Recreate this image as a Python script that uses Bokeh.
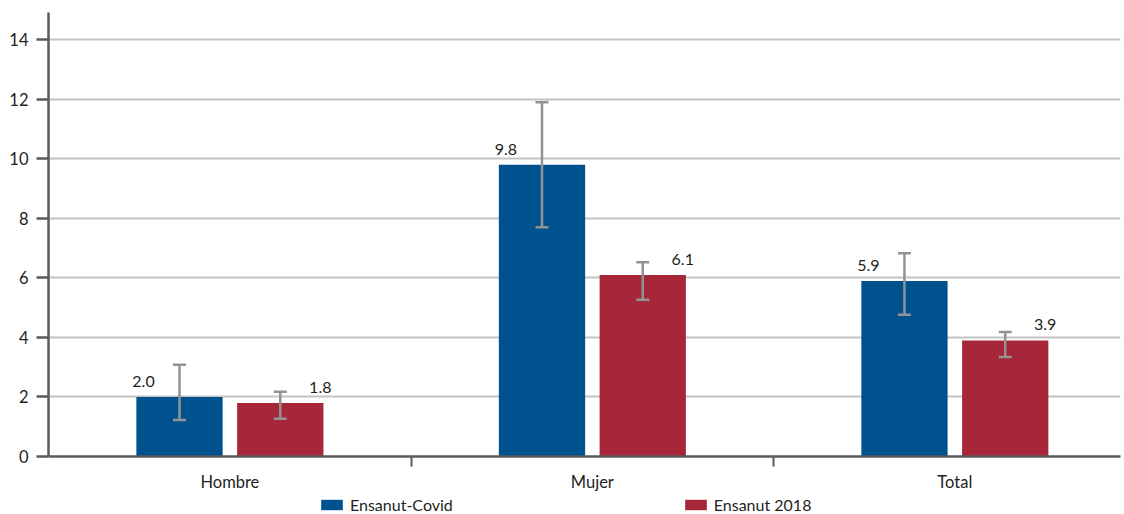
from bokeh.plotting import figure
from bokeh.layouts import column
from bokeh.models import (ColumnDataSource, Whisker, TeeHead, Legend, LegendItem,
                          FixedTicker, Range1d)
from bokeh.core.properties import value
from bokeh.embed import file_html
from bokeh.resources import INLINE

categories = ["Hombre", "Mujer", "Total"]
series = ["Ensanut-Covid", "Ensanut 2018"]
covid = [2.0, 9.8, 5.9]
covid_low = [1.23, 7.7, 4.76]
covid_high = [3.08, 11.9, 6.83]
e2018 = [1.8, 6.1, 3.9]
e2018_low = [1.27, 5.27, 3.34]
e2018_high = [2.18, 6.53, 4.18]
y_ticks = [0, 2, 4, 6, 8, 10, 12, 14]

BLUE = "#00528F"
RED = "#A6263A"
ERR = "#939393"
AXIS = "#5a5a5a"
TXT = "#231f20"
FONT = "Lato"
OFF = 0.139
BW = 0.238

idx = [i + 1 for i in range(len(categories))]
src_c = ColumnDataSource(dict(x=[i - OFF for i in idx], v=covid, lo=covid_low, hi=covid_high,
                              lab=[f"{v:.1f}" for v in covid]))
src_e = ColumnDataSource(dict(x=[i + OFF for i in idx], v=e2018, lo=e2018_low, hi=e2018_high,
                              lab=[f"{v:.1f}" for v in e2018]))

p = figure(width=1124, height=496, output_backend="svg", toolbar_location=None,
           x_range=Range1d(0.4996, 3.457), y_range=Range1d(0, 14.92),
           min_border_left=48, min_border_right=4, min_border_top=12, min_border_bottom=40)
p.outline_line_color = None
p.background_fill_color = "white"
p.border_fill_color = "white"

r_c = p.vbar(x="x", top="v", width=BW, source=src_c, fill_color=BLUE, line_color=None)
r_e = p.vbar(x="x", top="v", width=BW, source=src_e, fill_color=RED, line_color=None)

for src in (src_c, src_e):
    w = Whisker(source=src, base="x", upper="hi", lower="lo", line_color=ERR, line_width=2.5,
                level="overlay",
                upper_head=TeeHead(size=13, line_color=ERR, line_width=2.5),
                lower_head=TeeHead(size=13, line_color=ERR, line_width=2.5))
    p.add_layout(w)

p.text(x="x", y="v", text="lab", source=src_c, x_offset=-36, y_offset=-10,
       text_align="center", text_baseline="bottom", text_font=value(FONT),
       text_font_size="16px", text_color=TXT)
p.text(x="x", y="v", text="lab", source=src_e, x_offset=40, y_offset=-10,
       text_align="center", text_baseline="bottom", text_font=value(FONT),
       text_font_size="16px", text_color=TXT)

# axes
p.xaxis.ticker = FixedTicker(ticks=idx, minor_ticks=[1.5, 2.5])
p.xaxis.major_label_overrides = {i: c for i, c in zip(idx, categories)}
p.xaxis.major_tick_out = 0
p.xaxis.major_tick_in = 0
p.xaxis.minor_tick_out = 10
p.xaxis.minor_tick_in = 0
p.xaxis.minor_tick_line_color = AXIS
p.xaxis.minor_tick_line_width = 2
p.xaxis.axis_line_color = AXIS
p.xaxis.axis_line_width = 2.5
p.xaxis.major_label_standoff = 5
p.xaxis.major_label_text_font = FONT
p.xaxis.major_label_text_font_size = "16.5px"
p.xaxis.major_label_text_color = TXT
p.xgrid.visible = False

p.yaxis.ticker = FixedTicker(ticks=y_ticks)
p.yaxis.major_tick_out = 12
p.yaxis.major_tick_in = 0
p.yaxis.minor_tick_out = 0
p.yaxis.minor_tick_in = 0
p.yaxis.major_tick_line_color = AXIS
p.yaxis.major_tick_line_width = 2.5
p.yaxis.axis_line_color = AXIS
p.yaxis.axis_line_width = 2.5
p.yaxis.major_label_standoff = 8
p.yaxis.major_label_text_font = FONT
p.yaxis.major_label_text_font_size = "16.5px"
p.yaxis.major_label_text_color = TXT
p.ygrid.ticker = FixedTicker(ticks=y_ticks[1:])
p.ygrid.grid_line_color = "#c3c3c3"
p.ygrid.grid_line_width = 2

# legend strip below the chart (frame aligned with the chart frame)
lg = figure(width=1124, height=18, output_backend="svg", toolbar_location=None,
            x_range=Range1d(0, 1), y_range=Range1d(0, 1),
            min_border=0, min_border_left=0, min_border_right=0,
            min_border_top=0, min_border_bottom=0)
lg.outline_line_color = None
lg.axis.visible = False
lg.grid.visible = False
d_c = lg.vbar(x=[-5], top=[0], width=0.1, fill_color=BLUE, line_color=None)
d_e = lg.vbar(x=[-5], top=[0], width=0.1, fill_color=RED, line_color=None)
legend = Legend(items=[LegendItem(label=series[0], renderers=[d_c]),
                       LegendItem(label=series[1], renderers=[d_e])],
                orientation="horizontal", location=(270, 0),
                glyph_width=27, glyph_height=13, label_height=13, label_standoff=5,
                spacing=229, padding=0, margin=0, border_line_color=None,
                background_fill_alpha=0, label_text_font=FONT,
                label_text_font_size="16px", label_text_color=TXT)
lg.add_layout(legend, "center")

layout = column(p, lg, spacing=0)
open("out.html", "w").write(file_html(layout, INLINE))
